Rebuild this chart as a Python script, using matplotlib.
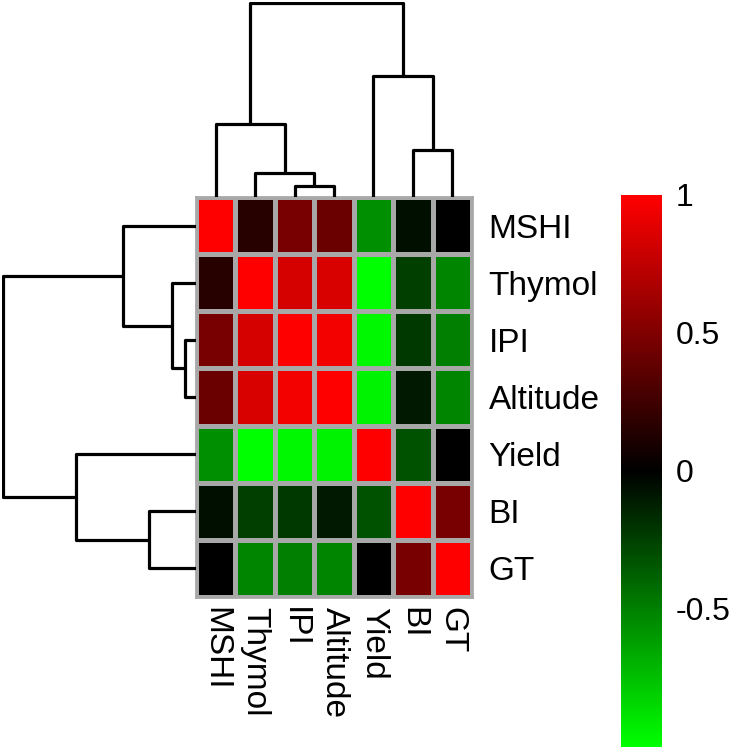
import numpy as np
import matplotlib
matplotlib.use("Agg")
import matplotlib.pyplot as plt
from matplotlib.colors import LinearSegmentedColormap

plt.rcParams["font.family"] = ["Liberation Sans", "DejaVu Sans"]

# ---- data (already in clustered order) ----
labels = ["MSHI", "Thymol", "IPI", "Altitude", "Yield", "BI", "GT"]
corr = np.array([
    [ 1.00,  0.15,  0.47,  0.42, -0.56, -0.06,  0.00],
    [ 0.15,  1.00,  0.83,  0.85, -1.00, -0.25, -0.52],
    [ 0.47,  0.83,  1.00,  0.95, -0.97, -0.22, -0.50],
    [ 0.42,  0.85,  0.95,  1.00, -0.95, -0.10, -0.52],
    [-0.56, -1.00, -0.97, -0.95,  1.00, -0.32,  0.00],
    [-0.06, -0.25, -0.22, -0.10, -0.32,  1.00,  0.47],
    [ 0.00, -0.52, -0.50, -0.52,  0.00,  0.47,  1.00],
])
# merges: (left node, right node, height); new nodes named c0, c1, ...
merges = [("IPI", "Altitude", 0.057), ("Thymol", "c0", 0.124), ("MSHI", "c1", 0.376),
          ("BI", "GT", 0.242), ("Yield", "c3", 0.624), ("c2", "c4", 1.0)]
cbar_ticks = [-0.5, 0, 0.5, 1]
cbar_ticklabels = ["-0.5", "0", "0.5", "1"]

cmap = LinearSegmentedColormap.from_list("gkr", ["#00ff00", "#000000", "#ff0000"])

W, H = 736, 747
fig = plt.figure(figsize=(W / 100, H / 100), dpi=100)

def fx(px): return px / W
def fy(py): return 1 - py / H

hm_l, hm_r, hm_t, hm_b = 196, 472, 197, 597
ax = fig.add_axes([fx(hm_l), fy(hm_b), fx(hm_r - hm_l), (hm_b - hm_t) / H])
n = len(labels)
mesh = ax.pcolormesh(np.arange(n + 1), np.arange(n + 1), corr, cmap=cmap, vmin=-1, vmax=1,
                     edgecolors="#a8a8a8", linewidth=2.2)
ax.set_xlim(0, n); ax.set_ylim(n, 0)
for s in ax.spines.values():
    s.set_edgecolor("#a8a8a8"); s.set_linewidth(2)
ax.yaxis.tick_right()
ax.set_yticks(np.arange(n) + 0.5); ax.set_yticklabels(labels, fontsize=24)
ax.set_xticks(np.arange(n) + 0.5)
ax.set_xticklabels(labels, fontsize=24, rotation=270, va="top", ha="center")
ax.tick_params(length=0, pad=12, axis="y")
ax.tick_params(length=0, pad=7, axis="x")


def dendro(axd, orient):
    pos = {lb: i + 0.5 for i, lb in enumerate(labels)}
    hgt = {lb: 0.0 for lb in labels}
    for k, (a, b, h) in enumerate(merges):
        xa, xb, ha, hb = pos[a], pos[b], hgt[a], hgt[b]
        xs = [xa, xa, xb, xb]; ys = [ha, h, h, hb]
        if orient == "top":
            axd.plot(xs, ys, color="black", lw=2.3, solid_capstyle="butt")
        else:
            axd.plot(ys, xs, color="black", lw=2.3, solid_capstyle="butt")
        nm = "c%d" % k
        pos[nm] = (xa + xb) / 2; hgt[nm] = h
    axd.axis("off")


axt = fig.add_axes([fx(hm_l), fy(hm_t), fx(hm_r - hm_l), (hm_t - 2) / H])
dendro(axt, "top")
axt.set_xlim(0, n); axt.set_ylim(0, 1.005)

axl = fig.add_axes([fx(2), fy(hm_b), fx(hm_l - 2), (hm_b - hm_t) / H])
dendro(axl, "left")
axl.set_ylim(n, 0); axl.set_xlim(1.005, 0)

cax = fig.add_axes([fx(621), 0, fx(41), (H - 195) / H])
cb = fig.colorbar(mesh, cax=cax, ticks=cbar_ticks)
cb.ax.set_yticklabels(cbar_ticklabels, fontsize=23)
cb.ax.tick_params(length=0, pad=10)
cb.outline.set_visible(False)

fig.savefig("out.png", dpi=100, facecolor="white")
